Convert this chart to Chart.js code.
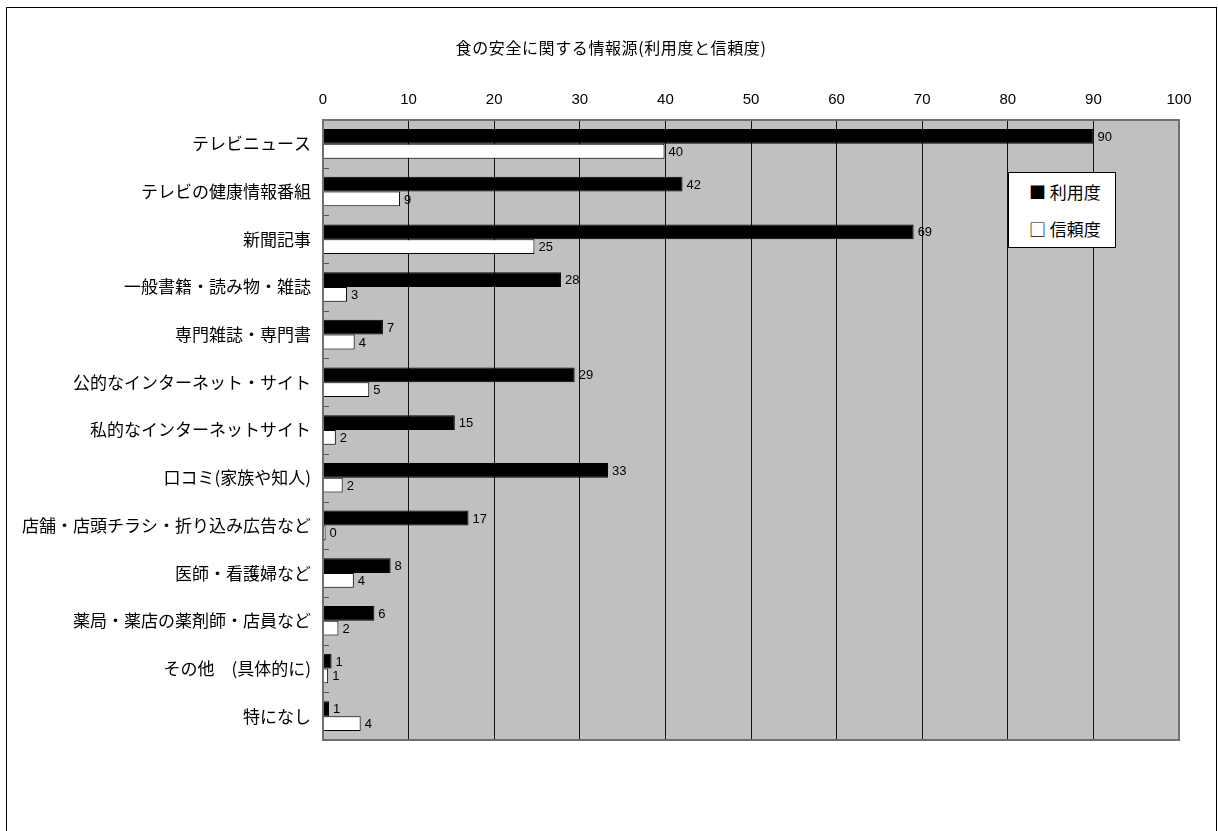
<!DOCTYPE html>
<html lang="ja">
<head>
<meta charset="utf-8">
<title>食の安全に関する情報源</title>
<script src="https://cdn.jsdelivr.net/npm/chart.js@4.4.1/dist/chart.umd.min.js"></script>
<style>
  html, body { margin: 0; padding: 0; background: #fff; overflow: hidden; }
  #wrap { position: relative; width: 1218px; height: 831px; }
  #frame { position: absolute; left: 6px; top: 7px; width: 1211px; height: 860px; border: 1px solid #000; box-sizing: border-box; }
  #title { position: absolute; left: 0; top: 35px; width: 1222px; text-align: center;
           font: 16px "Noto Sans CJK JP", sans-serif; color: #000; letter-spacing: 0.6px; }
  #legend { position: absolute; left: 1008px; top: 172px; width: 108px; height: 76px; box-sizing: border-box;
            background: #fff; border: 1px solid #000; font: 17px "Noto Sans CJK JP", sans-serif; color: #000; }
  #legend div { position: absolute; left: 20px; white-space: nowrap; }
  canvas { position: absolute; left: 0; top: 0; }
</style>
</head>
<body>
<div id="wrap">
  <div id="frame"></div>
  <canvas id="chart" width="1218" height="831"></canvas>
  <div id="title">食の安全に関する情報源(利用度と信頼度)</div>
  <div id="legend"></div>
</div>
<script>
// categories (top to bottom)
const categories = [
    'テレビニュース',
    'テレビの健康情報番組',
    '新聞記事',
    '一般書籍・読み物・雑誌',
    '専門雑誌・専門書',
    '公的なインターネット・サイト',
    '私的なインターネットサイト',
    '口コミ(家族や知人)',
    '店舗・店頭チラシ・折り込み広告など',
    '医師・看護婦など',
    '薬局・薬店の薬剤師・店員など',
    'その他　(具体的に)',
    '特になし'
];

// 利用度 / 信頼度 (%)
const usage = [90, 42, 69, 27.8, 7, 29.4, 15.4, 33.3, 17, 7.9, 6, 1, 0.7];
const trust = [39.9, 9, 24.7, 2.8, 3.7, 5.4, 1.5, 2.3, 0.3, 3.6, 1.8, 0.6, 4.4];

const seriesNames = ['利用度', '信頼度'];
const xTicks = [0, 10, 20, 30, 40, 50, 60, 70, 80, 90, 100];

const numFont = '"Liberation Sans", Arial, sans-serif';
const jpFont = '"Noto Sans CJK JP", sans-serif';

// plot background, frame, category tick marks
const plotFrame = {
    id: 'plotFrame',
    beforeDraw(chart) {
        const { ctx, chartArea: a } = chart;
        ctx.save();
        ctx.fillStyle = '#c0c0c0';
        ctx.fillRect(a.left, a.top, a.right - a.left, a.bottom - a.top);
        ctx.restore();
    },
    afterDatasetsDraw(chart) {
        const { ctx, chartArea: a } = chart;
        const y = chart.scales.y;
        const step = (a.bottom - a.top) / categories.length;
        ctx.save();
        ctx.strokeStyle = '#555';
        ctx.lineWidth = 1;
        ctx.beginPath();
        for (let i = 0; i <= categories.length; i++) {
            const py = Math.round(y.getPixelForValue(i) - step / 2) + 0.5;
            ctx.moveTo(a.left, py);
            ctx.lineTo(a.left + 6, py);
        }
        ctx.stroke();
        ctx.strokeStyle = '#707070';
        ctx.lineWidth = 2;
        ctx.strokeRect(a.left, a.top, a.right - a.left, a.bottom - a.top);
        ctx.restore();
    }
};

// value labels right of each bar
const barLabels = {
    id: 'barLabels',
    afterDraw(chart) {
        const ctx = chart.ctx;
        ctx.save();
        ctx.font = '13px ' + numFont;
        ctx.fillStyle = '#000';
        ctx.textAlign = 'left';
        ctx.textBaseline = 'middle';
        chart.data.datasets.forEach((ds, di) => {
            chart.getDatasetMeta(di).data.forEach((bar, i) => {
                ctx.fillText(String(Math.round(ds.data[i])), bar.x + 4, bar.y + 1);
            });
        });
        ctx.restore();
    }
};

const chart = new Chart(document.getElementById('chart'), {
    type: 'bar',
    data: {
        labels: categories,
        datasets: [
            {
                label: seriesNames[0],
                data: usage,
                backgroundColor: '#000',
                borderColor: '#000',
                borderWidth: 1,
                categoryPercentage: 0.62,
                barPercentage: 1.0
            },
            {
                label: seriesNames[1],
                data: trust,
                backgroundColor: '#fff',
                borderColor: '#000',
                borderWidth: 1,
                categoryPercentage: 0.62,
                barPercentage: 1.0
            }
        ]
    },
    options: {
        indexAxis: 'y',
        responsive: false,
        animation: false,
        devicePixelRatio: 1,
        layout: { padding: { left: 0, top: 0, right: 39, bottom: 91 } },
        plugins: {
            legend: { display: false },
            title: { display: false },
            tooltip: { enabled: false }
        },
        scales: {
            x: {
                position: 'top',
                min: 0,
                max: 100,
                afterBuildTicks: (scale) => { scale.ticks = xTicks.map(v => ({ value: v })); },
                afterFit: (scale) => { scale.height = 120; },
                ticks: {
                    color: '#000',
                    font: { family: numFont, size: 15 },
                    padding: 11,
                    maxRotation: 0
                },
                grid: { color: '#111', lineWidth: 1, drawTicks: false },
                border: { display: false }
            },
            y: {
                afterFit: (scale) => { scale.width = 323; },
                ticks: {
                    color: '#000',
                    font: { family: jpFont, size: 17 },
                    padding: 12,
                    autoSkip: false
                },
                grid: { display: false, drawTicks: false },
                border: { display: false }
            }
        }
    },
    plugins: [plotFrame, barLabels]
});

// legend box built from the dataset labels
const legendEl = document.getElementById('legend');
chart.data.datasets.forEach((ds, i) => {
    const row = document.createElement('div');
    row.style.top = (6 + i * 37) + 'px';
    row.textContent = (i === 0 ? '■' : '□') + ' ' + ds.label;
    legendEl.appendChild(row);
});
</script>
</body>
</html>
